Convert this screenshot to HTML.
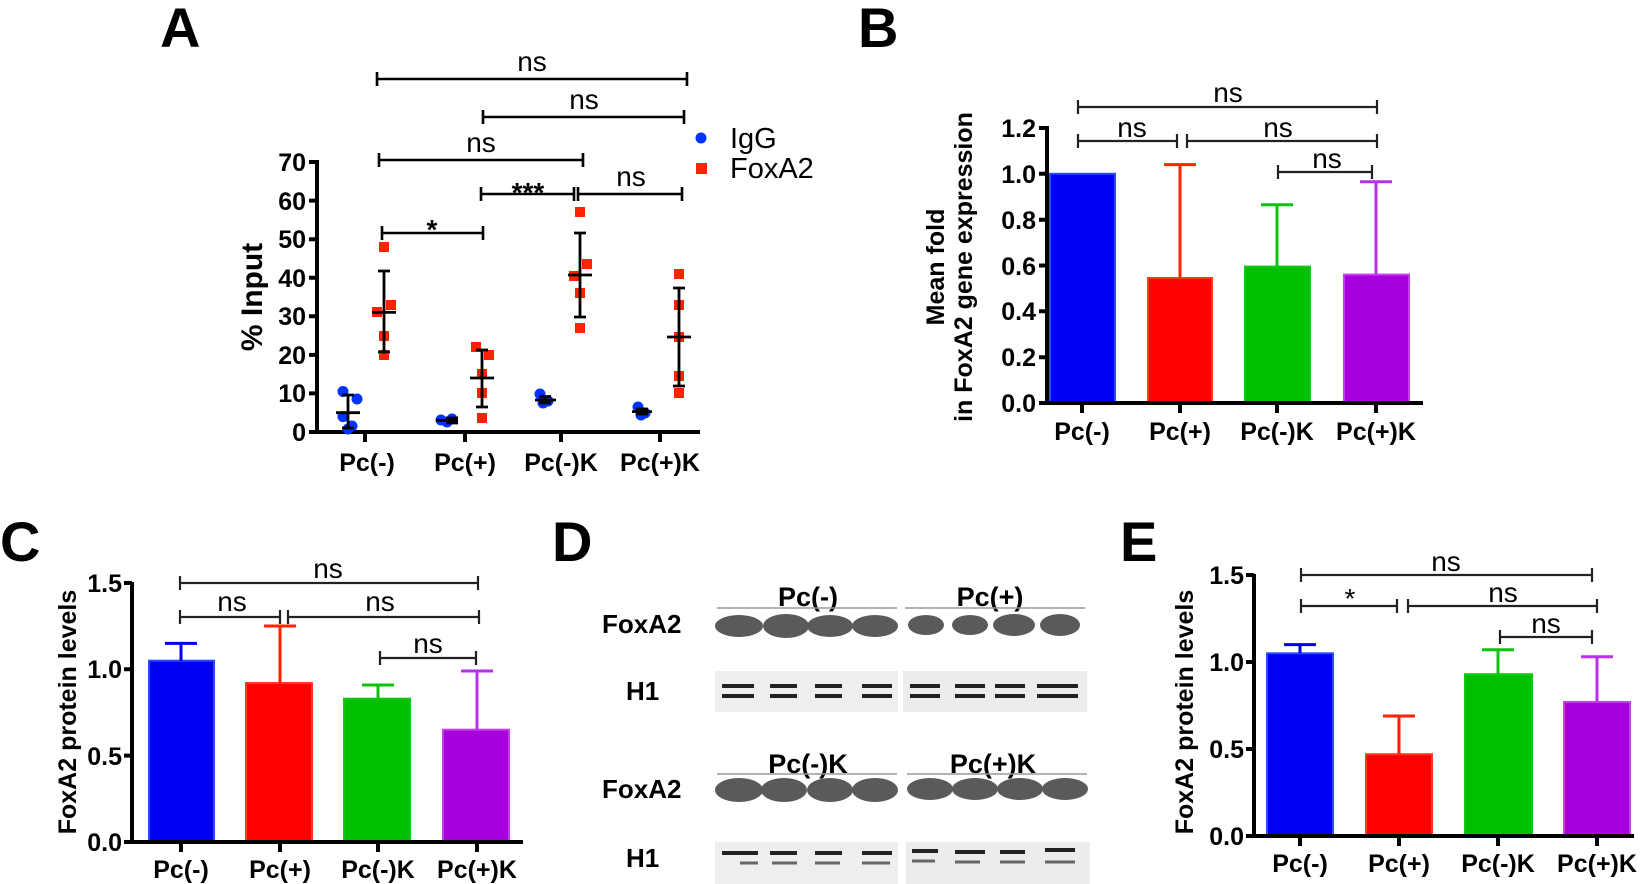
<!DOCTYPE html>
<html><head><meta charset="utf-8"><style>
html,body{margin:0;padding:0;background:#fff}
svg{display:block}
text{font-family:"Liberation Sans",Arial,sans-serif;font-weight:bold;fill:#000}
.ns text{font-weight:normal}
.L{font-size:56px}
.yt text{font-size:25px}
.xt text{font-size:25px}
.ax{stroke:#000;stroke-width:4;fill:none}
.br{stroke:#222;stroke-width:2.2;fill:none}
.bk{stroke:#000;stroke-width:3;fill:none}
</style></head><body>
<svg width="1645" height="884" viewBox="0 0 1645 884" xmlns="http://www.w3.org/2000/svg">
<!-- ============ A ============ -->
<text class="L" x="160" y="47">A</text>
<g class="ax"><path d="M317 160 V432 H700"/>
<path d="M309 162H317M309 200.6H317M309 239.2H317M309 277.7H317M309 316.3H317M309 354.9H317M309 393.4H317M309 432H317"/>
<path d="M365 432V442M465 432V442M561 432V442M660 432V442"/></g>
<g class="yt" text-anchor="end" style="font-size:26px">
<text x="306" y="171">70</text><text x="306" y="210">60</text><text x="306" y="248">50</text><text x="306" y="287">40</text><text x="306" y="325">30</text><text x="306" y="364">20</text><text x="306" y="402">10</text><text x="306" y="441">0</text></g>
<g class="xt" text-anchor="middle">
<text x="367" y="471">Pc(-)</text><text x="465" y="471">Pc(+)</text><text x="561" y="471">Pc(-)K</text><text x="660" y="471">Pc(+)K</text></g>
<text transform="translate(262,297) rotate(-90)" text-anchor="middle" style="font-size:30px">% Input</text>
<g class="bk" style="stroke-width:2.6">
<path d="M377 72V86M377 79H687M687 72V86"/>
<path d="M483 110V124M483 117H684M684 110V124"/>
<path d="M379 153V167M379 160H583M583 153V167"/>
<path d="M481 187V201M481 194H574M574 187V201"/>
<path d="M578 187V201M578 194H682M682 187V201"/>
<path d="M382 226V240M382 233H483M483 226V240"/></g>
<g class="ns" text-anchor="middle" style="font-size:28px">
<text x="532" y="71">ns</text><text x="584" y="109">ns</text><text x="481" y="152">ns</text><text x="631" y="186">ns</text></g>
<text x="528" y="202" text-anchor="middle" style="font-size:28px">***</text>
<text x="432" y="239" text-anchor="middle" style="font-size:28px">*</text>
<circle cx="701" cy="138" r="5.5" fill="#0033ff"/>
<rect x="696" y="163" width="11" height="11" fill="#ff2200"/>
<g class="ns" style="font-size:29px"><text x="730" y="148">IgG</text><text x="730" y="178">FoxA2</text></g>
<g fill="#0033ff">
<circle cx="343" cy="391.5" r="5.5"/><circle cx="357" cy="399" r="5.5"/><circle cx="343" cy="416.6" r="5.5"/><circle cx="352" cy="426" r="5.5"/><circle cx="348" cy="429" r="5.5"/>
<circle cx="441" cy="420" r="5.5"/><circle cx="447" cy="422" r="5.5"/><circle cx="452" cy="419" r="5.5"/>
<circle cx="540" cy="394" r="5.5"/><circle cx="548" cy="401" r="5.5"/><circle cx="543" cy="403" r="5.5"/>
<circle cx="638" cy="407" r="5.5"/><circle cx="645" cy="413" r="5.5"/><circle cx="641" cy="415" r="5.5"/></g>
<g fill="#ff2200">
<rect x="379" y="242" width="10" height="10"/><rect x="386" y="300" width="10" height="10"/><rect x="372" y="307" width="10" height="10"/><rect x="379" y="331" width="10" height="10"/><rect x="379" y="350" width="10" height="10"/>
<rect x="471" y="342" width="10" height="10"/><rect x="484" y="350" width="10" height="10"/><rect x="477" y="369" width="10" height="10"/><rect x="477" y="388" width="10" height="10"/><rect x="477" y="413" width="10" height="10"/>
<rect x="575" y="207" width="10" height="10"/><rect x="582" y="259" width="10" height="10"/><rect x="569" y="271" width="10" height="10"/><rect x="575" y="288" width="10" height="10"/><rect x="575" y="323" width="10" height="10"/>
<rect x="674" y="269" width="10" height="10"/><rect x="674" y="300" width="10" height="10"/><rect x="674" y="332" width="10" height="10"/><rect x="674" y="371" width="10" height="10"/><rect x="674" y="388" width="10" height="10"/></g>
<g class="bk" style="stroke-width:2.8">
<path d="M348 395V428M342 395H354M342 428H354M336 412.7H360"/>
<path d="M384 271V352M378 271H390M378 352H390M372 312.4H396"/>
<path d="M446 418H458M446 423H458M436 420.4H458"/>
<path d="M482 350V407M476 350H488M476 407H488M470 378H494"/>
<path d="M545 396.5V403M539 396.5H551M539 403H551M535 400H556"/>
<path d="M580 233V317M574 233H586M574 317H586M568 275H592"/>
<path d="M642 409V414M636 409H648M636 414H648M632 411.6H652"/>
<path d="M679 288V386M673 288H685M673 386H685M667 337H691"/></g>

<!-- ============ B ============ -->
<text class="L" x="858" y="47">B</text>
<g>
<rect x="1050" y="173.8" width="65" height="229.2" fill="#0000f5" stroke="#2a4bff" stroke-width="2"/>
<rect x="1148" y="278" width="64" height="125" fill="#ff0000" stroke="#ff3a1a" stroke-width="2"/>
<rect x="1245" y="266.6" width="65" height="136.4" fill="#00c000" stroke="#10c810" stroke-width="2"/>
<rect x="1344" y="274.6" width="65" height="128.4" fill="#a800dd" stroke="#c040ee" stroke-width="2"/></g>
<g stroke-width="3" fill="none">
<path d="M1180 278V164.6M1164 164.6H1196" stroke="#ff2200"/>
<path d="M1277 266.6V204.7M1261 204.7H1293" stroke="#10c010"/>
<path d="M1376 274.6V181.8M1360 181.8H1392" stroke="#b830e8"/></g>
<g class="ax"><path d="M1047 126V403H1423"/>
<path d="M1039 128H1047M1039 173.8H1047M1039 219.7H1047M1039 265.5H1047M1039 311.3H1047M1039 357.2H1047M1039 403H1047"/>
<path d="M1082 403V413M1180 403V413M1277 403V413M1376 403V413"/></g>
<g class="yt" text-anchor="end">
<text x="1036" y="137">1.2</text><text x="1036" y="183">1.0</text><text x="1036" y="229">0.8</text><text x="1036" y="275">0.6</text><text x="1036" y="320">0.4</text><text x="1036" y="366">0.2</text><text x="1036" y="412">0.0</text></g>
<g class="xt" text-anchor="middle">
<text x="1082" y="440">Pc(-)</text><text x="1180" y="440">Pc(+)</text><text x="1277" y="440">Pc(-)K</text><text x="1376" y="440">Pc(+)K</text></g>
<text transform="translate(944,267) rotate(-90)" text-anchor="middle" style="font-size:25px">Mean fold</text>
<text transform="translate(972,267) rotate(-90)" text-anchor="middle" style="font-size:25px">in FoxA2 gene expression</text>
<g class="br">
<path d="M1078 100V114M1078 107H1377M1377 100V114"/>
<path d="M1078 134V148M1078 141H1177M1177 134V148"/>
<path d="M1187 134V148M1187 141H1377M1377 134V148"/>
<path d="M1278 165V179M1278 172H1372M1372 165V179"/></g>
<g class="ns" text-anchor="middle" style="font-size:28px">
<text x="1228" y="102">ns</text><text x="1132" y="137">ns</text><text x="1278" y="137">ns</text><text x="1327" y="168">ns</text></g>

<!-- ============ C ============ -->
<text class="L" x="0" y="561">C</text>
<g>
<rect x="149" y="660.7" width="65" height="181.3" fill="#0000f5" stroke="#2a4bff" stroke-width="2"/>
<rect x="246" y="683" width="66" height="159" fill="#ff0000" stroke="#ff3a1a" stroke-width="2"/>
<rect x="344" y="698.7" width="66" height="143.3" fill="#00c000" stroke="#10c810" stroke-width="2"/>
<rect x="443" y="729.7" width="66" height="112.3" fill="#a800dd" stroke="#c040ee" stroke-width="2"/></g>
<g stroke-width="3" fill="none">
<path d="M181 660.7V643.4M165 643.4H197" stroke="#0000f5"/>
<path d="M280 683V626M264 626H296" stroke="#ff2200"/>
<path d="M378 698.7V685M362 685H394" stroke="#10c010"/>
<path d="M477 729.7V671M461 671H493" stroke="#b830e8"/></g>
<g class="ax"><path d="M132 582V842H523"/>
<path d="M124 583H132M124 669.3H132M124 755.6H132M124 842H132"/>
<path d="M181 842V852M280 842V852M378 842V852M477 842V852"/></g>
<g class="yt" text-anchor="end">
<text x="122" y="592">1.5</text><text x="122" y="678">1.0</text><text x="122" y="765">0.5</text><text x="122" y="851">0.0</text></g>
<g class="xt" text-anchor="middle">
<text x="181" y="878">Pc(-)</text><text x="280" y="878">Pc(+)</text><text x="378" y="878">Pc(-)K</text><text x="477" y="878">Pc(+)K</text></g>
<text transform="translate(76,712) rotate(-90)" text-anchor="middle" style="font-size:25px">FoxA2 protein levels</text>
<g class="br">
<path d="M180 576V590M180 583H478M478 576V590"/>
<path d="M180 610V624M180 617H280M280 610V624"/>
<path d="M288 610V624M288 617H479M479 610V624"/>
<path d="M380 651V665M380 658H476M476 651V665"/></g>
<g class="ns" text-anchor="middle" style="font-size:28px">
<text x="328" y="578">ns</text><text x="232" y="611">ns</text><text x="380" y="611">ns</text><text x="428" y="653">ns</text></g>

<!-- ============ D ============ -->
<text class="L" x="552" y="561">D</text>
<g style="font-size:26px">
<text x="602" y="633">FoxA2</text><text x="626" y="700">H1</text>
<text x="602" y="798">FoxA2</text><text x="626" y="867">H1</text></g>
<g text-anchor="middle" style="font-size:27px">
<text x="808" y="606">Pc(-)</text><text x="990" y="606">Pc(+)</text>
<text x="808" y="773">Pc(-)K</text><text x="993" y="773">Pc(+)K</text></g>
<g stroke="#999" stroke-width="1.5">
<path d="M717 608H897M905 608H1085M717 774H897M907 774H1087"/></g>
<g fill="#5a5a5a">
<ellipse cx="739" cy="626" rx="24" ry="11"/><ellipse cx="786" cy="626" rx="23" ry="12"/><ellipse cx="830" cy="626" rx="23" ry="11"/><ellipse cx="875" cy="626" rx="23" ry="11"/>
<ellipse cx="926" cy="625" rx="18" ry="10"/><ellipse cx="970" cy="625" rx="18" ry="10"/><ellipse cx="1014" cy="625" rx="21" ry="11"/><ellipse cx="1060" cy="625" rx="20" ry="11"/>
<ellipse cx="739" cy="790" rx="24" ry="12"/><ellipse cx="784" cy="790" rx="23" ry="12"/><ellipse cx="830" cy="790" rx="23" ry="12"/><ellipse cx="875" cy="790" rx="23" ry="12"/>
<ellipse cx="930" cy="789" rx="23" ry="11"/><ellipse cx="975" cy="789" rx="23" ry="11"/><ellipse cx="1020" cy="789" rx="23" ry="11"/><ellipse cx="1065" cy="789" rx="23" ry="11"/></g>
<rect x="715" y="671" width="183" height="41" fill="#eee"/><rect x="903" y="671" width="184" height="41" fill="#ececec"/>
<rect x="715" y="842" width="183" height="42" fill="#eee"/><rect x="906" y="842" width="184" height="42" fill="#ececec"/>
<g stroke="#222" stroke-width="4">
<path d="M722 686H754M722 696H754M770 686H797M770 696H797M815 686H842M815 696H842M862 686H892M862 696H892"/>
<path d="M910 686H940M910 696H940M955 686H985M955 696H985M995 686H1025M995 696H1025M1037 686H1078M1037 696H1078"/>
<path d="M722 853H758M770 853H797M815 853H842M862 853H892"/>
<path d="M912 851H938M955 852H985M1000 852H1025M1045 850H1075"/></g>
<g stroke="#666" stroke-width="3">
<path d="M740 863H758M772 863H797M815 863H840M862 863H890M912 861H935M955 862H980M1000 862H1025M1045 862H1075"/></g>

<!-- ============ E ============ -->
<text class="L" x="1120" y="561">E</text>
<g>
<rect x="1267" y="653.3" width="66" height="182.7" fill="#0000f5" stroke="#2a4bff" stroke-width="2"/>
<rect x="1366" y="754.2" width="66" height="81.8" fill="#ff0000" stroke="#ff3a1a" stroke-width="2"/>
<rect x="1465" y="674.2" width="67" height="161.8" fill="#00c000" stroke="#10c810" stroke-width="2"/>
<rect x="1564" y="702" width="66" height="134" fill="#a800dd" stroke="#c040ee" stroke-width="2"/></g>
<g stroke-width="3" fill="none">
<path d="M1300 653.3V644.6M1284 644.6H1316" stroke="#0000f5"/>
<path d="M1399 754.2V716M1383 716H1415" stroke="#ff2200"/>
<path d="M1498 674.2V649.8M1482 649.8H1514" stroke="#10c010"/>
<path d="M1597 702V656.8M1581 656.8H1613" stroke="#b830e8"/></g>
<g class="ax"><path d="M1254 574V836H1634"/>
<path d="M1246 575H1254M1246 662H1254M1246 749H1254M1246 836H1254"/>
<path d="M1300 836V846M1399 836V846M1498 836V846M1597 836V846"/></g>
<g class="yt" text-anchor="end">
<text x="1244" y="584">1.5</text><text x="1244" y="671">1.0</text><text x="1244" y="758">0.5</text><text x="1244" y="845">0.0</text></g>
<g class="xt" text-anchor="middle">
<text x="1300" y="872">Pc(-)</text><text x="1399" y="872">Pc(+)</text><text x="1498" y="872">Pc(-)K</text><text x="1597" y="872">Pc(+)K</text></g>
<text transform="translate(1193,712) rotate(-90)" text-anchor="middle" style="font-size:25px">FoxA2 protein levels</text>
<g class="br">
<path d="M1301 568V582M1301 575H1592M1592 568V582"/>
<path d="M1301 599V613M1301 606H1397M1397 599V613"/>
<path d="M1408 599V613M1408 606H1597M1597 599V613"/>
<path d="M1500 630V644M1500 637H1592M1592 630V644"/></g>
<g class="ns" text-anchor="middle" style="font-size:28px">
<text x="1446" y="571">ns</text><text x="1503" y="602">ns</text><text x="1546" y="633">ns</text>
<text x="1350" y="608">*</text></g>
</svg>
</body></html>
